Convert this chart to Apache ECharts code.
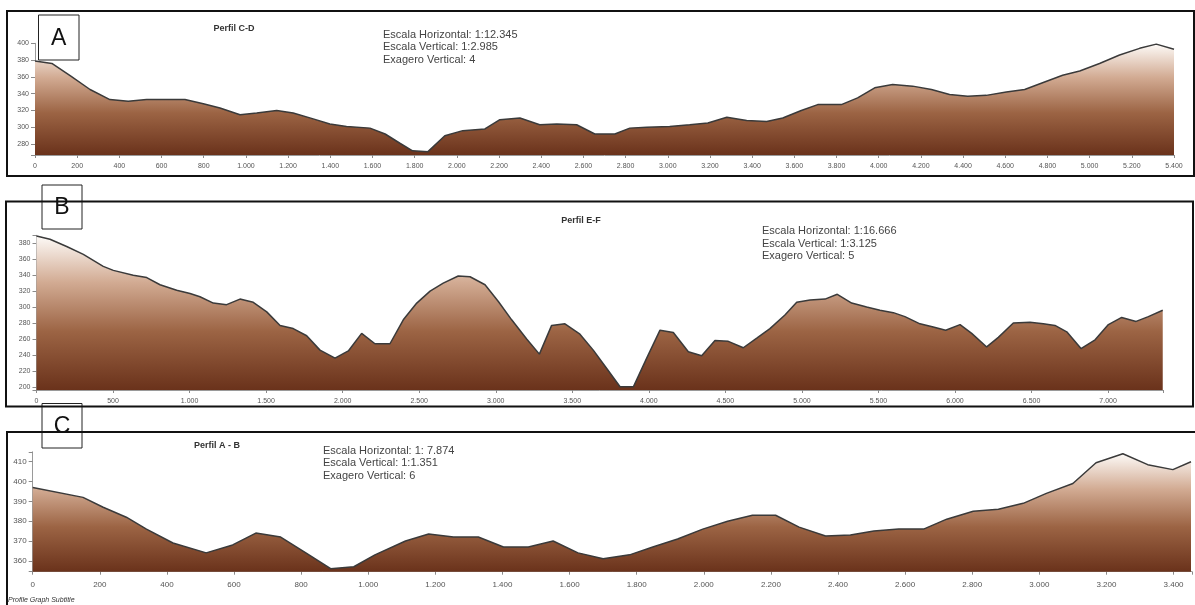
<!DOCTYPE html>
<html>
<head>
<meta charset="utf-8">
<script src="https://cdn.jsdelivr.net/npm/echarts@6/dist/echarts.min.js"></script>
<style>
  html, body { margin: 0; padding: 0; background: #fff; }
  #main { width: 1195px; height: 605px; }
</style>
</head>
<body>
<div id="main"></div>
<script>
// Perfil C-D (A)
var distA = [0, 80, 170, 261, 355, 442, 529, 711, 798, 877, 972, 1051, 1146, 1224, 1319, 1398, 1477, 1588, 1660, 1730, 1790, 1863, 1943, 2028, 2133, 2204, 2299, 2393, 2474, 2568, 2654, 2749, 2820, 2900, 3009, 3104, 3190, 3280, 3374, 3469, 3545, 3633, 3711, 3823, 3900, 3981, 4066, 4161, 4250, 4336, 4422, 4510, 4605, 4692, 4777, 4872, 4953, 5047, 5142, 5237, 5316, 5400];
var elevA = [379, 376, 361, 345, 333, 331, 333, 333, 328, 323, 315, 317, 320, 317, 310, 304, 301, 299, 292, 281, 272, 271, 290, 296, 298, 309, 311, 303, 304, 303, 292, 292, 299, 300, 301, 303, 305, 312, 308, 307, 311, 320, 327, 327, 335, 347, 351, 349, 345, 339, 337, 338, 342, 345, 353, 362, 367, 376, 386, 394, 399, 393];

// Perfil E-F (B)
var distB = [0, 88, 197, 306, 436, 502, 632, 720, 807, 916, 1003, 1068, 1155, 1242, 1329, 1416, 1504, 1591, 1677, 1765, 1852, 1950, 2037, 2124, 2211, 2309, 2396, 2484, 2571, 2657, 2755, 2832, 2930, 3017, 3104, 3202, 3285, 3365, 3452, 3550, 3637, 3725, 3812, 3899, 3986, 4073, 4160, 4258, 4345, 4432, 4519, 4617, 4705, 4791, 4889, 4966, 5053, 5151, 5231, 5325, 5423, 5510, 5597, 5673, 5771, 5858, 5939, 6033, 6109, 6207, 6283, 6381, 6490, 6577, 6653, 6730, 6823, 6915, 7002, 7089, 7183, 7263, 7357];
var elevB = [389, 385, 376, 366, 351, 346, 340, 337, 328, 321, 317, 313, 305, 303, 310, 306, 294, 277, 273, 264, 246, 236, 245, 267, 254, 254, 284, 305, 320, 330, 339, 338, 328, 307, 284, 260, 241, 277, 279, 266, 246, 223, 200, 200, 236, 271, 268, 244, 239, 258, 257, 249, 261, 273, 290, 306, 309, 310, 316, 305, 300, 296, 293, 288, 279, 275, 271, 278, 267, 250, 262, 280, 281, 279, 277, 269, 248, 259, 278, 287, 282, 288, 296];

// Perfil A - B (C)
var distC = [0, 150, 210, 279, 339, 418, 517, 596, 665, 739, 814, 888, 957, 1020, 1111, 1180, 1254, 1328, 1403, 1477, 1551, 1625, 1700, 1779, 1848, 1922, 1997, 2071, 2145, 2214, 2284, 2363, 2437, 2507, 2581, 2655, 2724, 2803, 2878, 2952, 3021, 3100, 3169, 3249, 3323, 3398, 3452];
var elevC = [397, 392, 387, 382, 376, 369, 364, 368, 374, 372, 364, 356, 357, 363, 370, 373.5, 372, 372, 367, 367, 370, 364, 361, 363, 367, 371, 376, 380, 383, 383, 377, 372.5, 373, 375, 376, 376, 381, 385, 386, 389, 394, 399, 409.5, 414, 408.5, 406, 410];

var notesA = ['Escala Horizontal: 1:12.345', 'Escala Vertical: 1:2.985', 'Exagero Vertical: 4'];
var notesB = ['Escala Horizontal: 1:16.666', 'Escala Vertical: 1:3.125', 'Exagero Vertical: 5'];
var notesC = ['Escala Horizontal: 1: 7.874', 'Escala Vertical: 1:1.351', 'Exagero Vertical: 6'];

function zip(xs, ys) {
  return xs.map(function (x, i) { return [x, ys[i]]; });
}

function fmtThousands(v) {
  return String(v).replace(/\B(?=(\d{3})+(?!\d))/g, '.');
}

var FONT = 'Liberation Sans, Arial, sans-serif';

var chartDom = document.getElementById('main');
var myChart = echarts.init(chartDom);

function xAxisFor(idx, max, step, size, margin) {
  return {
    type: 'value', gridIndex: idx, min: 0, max: max, interval: step,
    axisLine: { show: true, onZero: false, lineStyle: { color: '#9a9a9a', width: 1 } },
    axisTick: { show: true, length: 3, lineStyle: { color: '#8a8a8a' } },
    splitLine: { show: false },
    axisLabel: {
      fontSize: size, color: '#555', fontFamily: FONT, margin: margin,
      formatter: function (v) { return v % step === 0 ? fmtThousands(v) : ''; }
    }
  };
}

function yAxisFor(idx, min, max, split, step, size) {
  return {
    type: 'value', gridIndex: idx, min: min, max: max, splitNumber: split,
    axisLine: { show: true, lineStyle: { color: '#9a9a9a', width: 1 } },
    axisTick: { show: true, length: 4, lineStyle: { color: '#8a8a8a' } },
    splitLine: { show: false },
    axisLabel: {
      fontSize: size, color: '#555', fontFamily: FONT, margin: 6,
      formatter: function (v) { return v % step === 0 ? String(v) : ''; }
    }
  };
}

function fill() {
  return new echarts.graphic.LinearGradient(0, 0, 0, 1, [
    { offset: 0, color: '#fdfaf7' },
    { offset: 0.3, color: '#d2ab93' },
    { offset: 0.62, color: '#9c6444' },
    { offset: 1, color: '#6a321b' }
  ]);
}

function profile(idx, data) {
  return {
    type: 'line', xAxisIndex: idx, yAxisIndex: idx,
    data: data, symbol: 'none', smooth: false,
    lineStyle: { color: '#3a3a3a', width: 1.5 },
    areaStyle: { origin: 'start', color: fill(), opacity: 1 },
    silent: true
  };
}

function noteTexts(x, y0, lines) {
  return lines.map(function (t, i) {
    return {
      type: 'text', left: x, top: y0 + i * 12.6,
      style: { text: t, fontSize: 11, fill: '#444', fontFamily: FONT }
    };
  });
}

function titleText(cx, cy, t) {
  return {
    type: 'text', x: cx, y: cy,
    style: { text: t, fontSize: 9, fontWeight: 'bold', fill: '#333', fontFamily: FONT, align: 'center', verticalAlign: 'middle' }
  };
}

function frame(x, y, w, h) {
  return {
    type: 'rect', shape: { x: x, y: y, width: w, height: h }, z: 10,
    style: { fill: 'none', stroke: '#111', lineWidth: 2 }
  };
}

function letterBox(x, y, w, h, t) {
  return {
    type: 'group', z: 20,
    children: [
      { type: 'rect', shape: { x: x, y: y, width: w, height: h }, style: { fill: '#fff', stroke: '#222', lineWidth: 1 } },
      { type: 'text', x: x + w / 2, y: y + h / 2 + 1, style: { text: t, fontSize: 23, fill: '#111', fontFamily: FONT, align: 'center', verticalAlign: 'middle' } }
    ]
  };
}

var graphics = [
  frame(7, 11, 1187, 165),
  frame(6, 201.5, 1187, 205),
  frame(7, 432, 1200, 200),
  letterBox(38.5, 15, 40.5, 45, 'A'),
  letterBox(42, 185, 40, 44, 'B'),
  letterBox(42, 403.5, 40, 44.5, 'C'),
  titleText(234, 29, 'Perfil C-D'),
  titleText(581, 221, 'Perfil E-F'),
  titleText(217, 446, 'Perfil A - B'),
  {
    type: 'text', left: 8, top: 597,
    style: { text: 'Profile Graph Subtitle', fontSize: 7, fontStyle: 'italic', fill: '#333', fontFamily: FONT }
  }
].concat(noteTexts(383, 29, notesA))
 .concat(noteTexts(762, 225.5, notesB))
 .concat(noteTexts(323, 445, notesC));

var option = {
  backgroundColor: '#fff',
  animation: false,
  grid: [
    { left: 35, right: 21, top: 43.3, bottom: 450 },
    { left: 36.5, right: 31.8, top: 235.3, bottom: 215 },
    { left: 32.7, right: 0, top: 451.8, bottom: 33.3 }
  ],
  xAxis: [
    xAxisFor(0, 5400, 200, 7, 8),
    xAxisFor(1, 7360, 500, 7, 8),
    xAxisFor(2, 3455, 200, 8, 9)
  ],
  yAxis: [
    yAxisFor(0, 267, 400, 7, 20, 7),
    yAxisFor(1, 196, 390, 10, 20, 7),
    yAxisFor(2, 354.5, 415, 6, 10, 8)
  ],
  series: [
    profile(0, zip(distA, elevA)),
    profile(1, zip(distB, elevB)),
    profile(2, zip(distC, elevC))
  ],
  graphic: graphics
};

option && myChart.setOption(option);
</script>
</body>
</html>
